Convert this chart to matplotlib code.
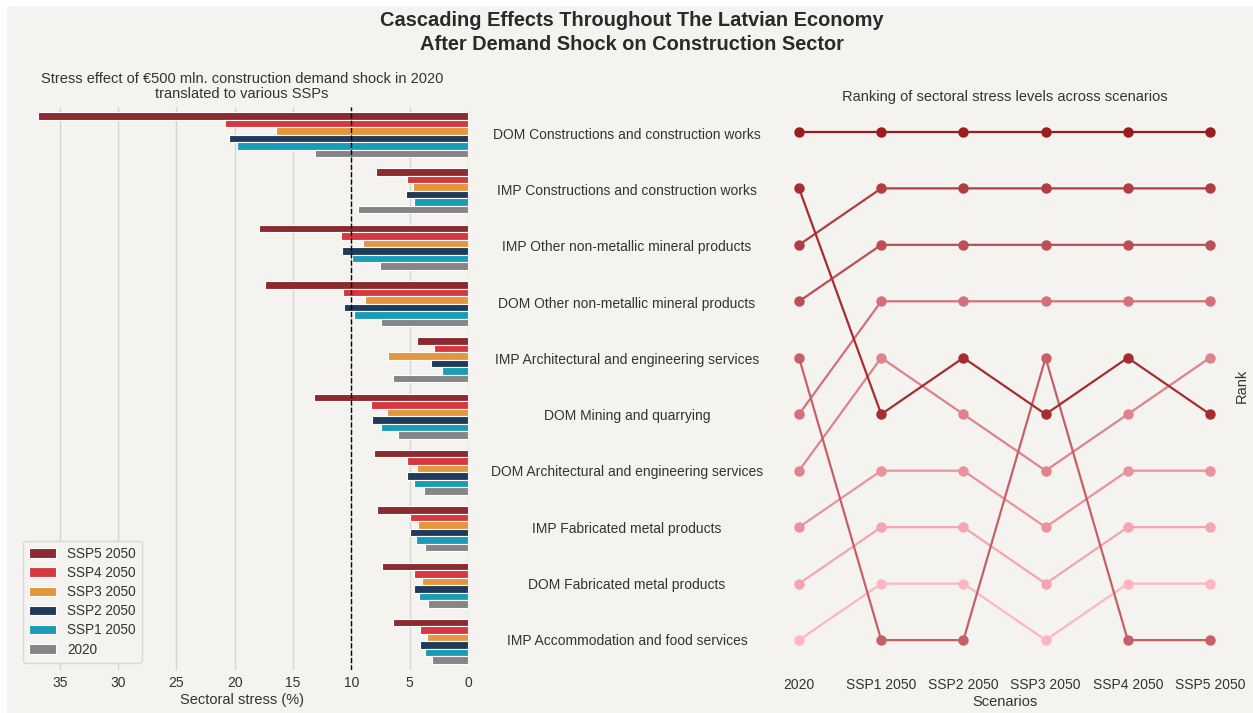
import numpy as np
import matplotlib
matplotlib.use("Agg")
import matplotlib.pyplot as plt
from matplotlib.colors import LinearSegmentedColormap
from matplotlib.patches import Rectangle
from matplotlib.transforms import blended_transform_factory

plt.rcParams['font.family'] = ['Liberation Sans', 'DejaVu Sans']

sectors = [
    "DOM Constructions and construction works",
    "IMP Constructions and construction works",
    "IMP Other non-metallic mineral products",
    "DOM Other non-metallic mineral products",
    "IMP Architectural and engineering services",
    "DOM Mining and quarrying",
    "DOM Architectural and engineering services",
    "IMP Fabricated metal products",
    "DOM Fabricated metal products",
    "IMP Accommodation and food services",
]

# Sectoral stress (%) per scenario
ssp5_2050 = [36.9, 7.9, 17.9, 17.4, 4.4, 13.2, 8.1, 7.8, 7.37, 6.42]
ssp4_2050 = [20.8, 5.27, 10.86, 10.7, 2.9, 8.3, 5.2, 4.96, 4.64, 4.1]
ssp3_2050 = [16.45, 4.7, 9.0, 8.86, 6.9, 6.96, 4.36, 4.27, 3.93, 3.5]
ssp2_2050 = [20.5, 5.33, 10.8, 10.6, 3.2, 8.2, 5.2, 4.96, 4.64, 4.1]
ssp1_2050 = [19.8, 4.6, 9.97, 9.8, 2.2, 7.5, 4.65, 4.5, 4.19, 3.72]
base_2020 = [13.1, 9.46, 7.54, 7.5, 6.4, 5.96, 3.75, 3.7, 3.41, 3.07]

bar_series = ["SSP5 2050", "SSP4 2050", "SSP3 2050", "SSP2 2050", "SSP1 2050", "2020"]
bar_values = [ssp5_2050, ssp4_2050, ssp3_2050, ssp2_2050, ssp1_2050, base_2020]
bar_colors = ["#8c2a2f", "#d6383f", "#e3963e", "#1f3b5c", "#1a9cb7", "#858585"]

scenarios = ["2020", "SSP1 2050", "SSP2 2050", "SSP3 2050", "SSP4 2050", "SSP5 2050"]
scenario_values = [base_2020, ssp1_2050, ssp2_2050, ssp3_2050, ssp4_2050, ssp5_2050]

threshold = 10

BG = "#f4f3ef"
TXT = "#333333"

W, H = 1253, 713
fig = plt.figure(figsize=(W / 100, H / 100), dpi=100, facecolor="white")
fig.patches.append(Rectangle((7 / W, 0), 1, 1 - 6 / H, transform=fig.transFigure,
                             facecolor=BG, edgecolor="none", zorder=-10))

def px_axes(x0, y0, x1, y1):
    return fig.add_axes([x0 / W, 1 - y1 / H, (x1 - x0) / W, (y1 - y0) / H])

# ---- Left: grouped horizontal bars ----
ax = px_axes(16, 106.5, 468, 669.5)
ax.set_facecolor(BG)
n_sec = len(sectors)
n_ser = len(bar_series)
group_w = 0.8
bw = group_w / n_ser
ypos = np.arange(n_sec)
for k, (name, vals, col) in enumerate(zip(bar_series, bar_values, bar_colors)):
    offs = -group_w / 2 + bw * (k + 0.5)
    ax.barh(ypos + offs, vals, height=bw, color=col, edgecolor="white",
            linewidth=0.8, label=name, zorder=3)
ax.set_ylim(n_sec - 0.5, -0.5)
ax.margins(x=0.05)
ax.set_xlim(ax.get_xlim()[1], 0)
ax.set_xticks(np.arange(0, 40, 5))
ax.set_yticks([])
ax.grid(axis="x", color="#d4d4d4", linewidth=1.0, zorder=0)
ax.axvline(threshold, color="black", linestyle="--", linewidth=1.0, zorder=4)
for s in ax.spines.values():
    s.set_visible(False)
ax.tick_params(axis="x", length=0, pad=5, labelsize=10, labelcolor=TXT)
ax.set_xlabel("Sectoral stress (%)", fontsize=10.5, color=TXT, labelpad=2)
ax.set_title("Stress effect of €500 mln. construction demand shock in 2020\n"
             "translated to various SSPs", fontsize=10.5, color=TXT, pad=6,
             linespacing=1.1)
leg = ax.legend(loc="lower left", fontsize=9.8, frameon=True, facecolor=BG,
                edgecolor="#d9d9d9", framealpha=1, handlelength=2.0,
                borderpad=0.45, labelspacing=0.38)
for t in leg.get_texts():
    t.set_color(TXT)

# Sector names between the panels
tr = blended_transform_factory(fig.transFigure, ax.transData)
for i, name in enumerate(sectors):
    fig.text(627 / W, i, name, transform=tr, ha="center", va="center",
             fontsize=10, color=TXT)

# ---- Right: rank chart ----
vals_mat = np.array(scenario_values)  # scenarios x sectors
ranks = np.empty_like(vals_mat, dtype=int)
for j in range(vals_mat.shape[0]):
    order = np.argsort(-vals_mat[j], kind="stable")
    ranks[j, order] = np.arange(1, n_sec + 1)

cmap = LinearSegmentedColormap.from_list("reds", ["#9b1b1e", "#ffb6c1"])
ax2 = px_axes(778.5, 106.5, 1230.5, 665.5)
ax2.set_facecolor(BG)
xs = np.arange(len(scenarios))
for i in range(n_sec):
    col = cmap((ranks[0, i] - 1) / (n_sec - 1))
    ax2.plot(xs, ranks[:, i], color=col, linewidth=1.6, marker="o",
             markersize=6.5, zorder=2 + (n_sec - ranks[0, i]))
ax2.set_ylim(n_sec + 0.45, 1 - 0.45)
ax2.set_xlim(-0.25, len(scenarios) - 0.75)
ax2.set_xticks(xs)
ax2.set_xticklabels(scenarios)
ax2.set_yticks([])
for s in ax2.spines.values():
    s.set_visible(False)
ax2.tick_params(axis="x", length=0, pad=9, labelsize=10, labelcolor=TXT)
ax2.set_xlabel("Scenarios", fontsize=10.5, color=TXT, labelpad=2)
ax2.yaxis.set_label_position("right")
ax2.set_ylabel("Rank", fontsize=10.5, color=TXT, labelpad=3)
ax2.set_title("Ranking of sectoral stress levels across scenarios",
              fontsize=10.5, color=TXT, pad=4)

fig.suptitle("Cascading Effects Throughout The Latvian Economy\n"
             "After Demand Shock on Construction Sector",
             x=632 / W, y=1 - 11 / H, va="top", fontsize=14.4, fontweight="bold",
             color="#2a2a2a", linespacing=1.3)

fig.savefig("out.png", dpi=100, facecolor=fig.get_facecolor())
